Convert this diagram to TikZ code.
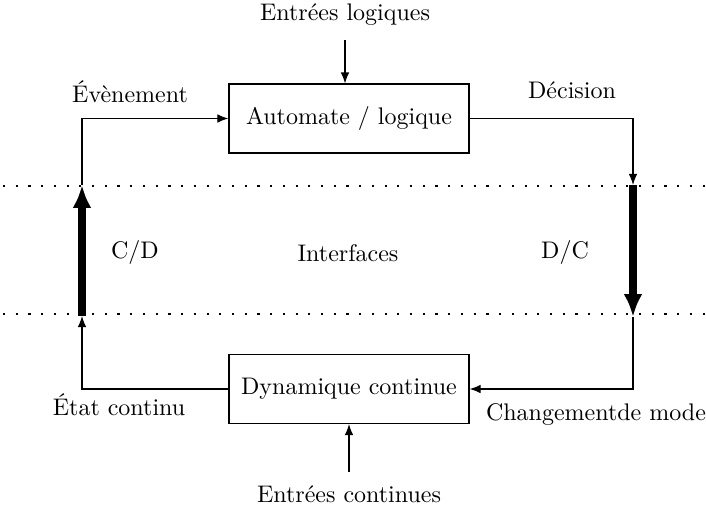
\documentclass[tikz,border=0pt]{standalone}
\usetikzlibrary{arrows.meta}
\begin{document}
\begin{tikzpicture}[x=0.41667pt,y=-0.41667pt,
  blockbox/.style={draw,line width=0.5pt,minimum width=100pt,minimum height=28.7pt,inner sep=0pt},
  lbl/.style={inner sep=0pt},
  thin/.style={line width=0.5pt,-{Latex[length=4.6pt,width=3.6pt]}},
  thickarr/.style={line width=3.4pt,-{Latex[length=9.5pt,width=7.8pt]}},
  dotline/.style={line width=0.8pt,dash pattern=on 0.9pt off 4.4pt}]
\useasboundingbox (0,0) rectangle (706,509);
% blocks
\node[blockbox] (auto) at (349,118.5) {Automate / logique};
\node[blockbox] (dyn) at (349,389) {Dynamique continue};
% labels
\node[lbl] (inlog) at (345,15) {Entrées logiques};
\node[lbl] (incont) at (349,494) {Entrées continues};
\node[lbl] (evt) at (130,92) {Évènement};
\node[lbl] (dec) at (572,90) {Décision};
\node[lbl] (cd) at (135,253) {C/D};
\node[lbl] (itf) at (348,253) {Interfaces};
\node[lbl] (dc) at (565,253) {D/C};
\node[lbl] (etat) at (119,405) {État continu};
\node[lbl] (chg) at (596,415) {Changementde mode};
% coordinates
\coordinate (inLs) at (345,40);
\coordinate (inCs) at (349,472);
\coordinate (cdTop) at (82,185);
\coordinate (cdBot) at (82,316);
\coordinate (dcTop) at (633,185);
\coordinate (dcBot) at (633,317);
\coordinate (dotAl) at (3,186);
\coordinate (dotAr) at (706,186);
\coordinate (dotBl) at (3,314);
\coordinate (dotBr) at (706,314);
% dotted interface lines
\draw[dotline] (dotAl) -- (dotAr);
\draw[dotline] (dotBl) -- (dotBr);
% inputs
\draw[thin] (inLs) -- (inLs |- auto.north);
\draw[thin] (inCs) -- (inCs |- dyn.south);
% left loop
\draw[thin] (dyn.west) -| (cdBot);
\draw[thickarr] (cdBot) -- (cdTop);
\draw[thin] (cdTop) |- (auto.west);
% right loop
\draw[thin] (auto.east) -| (dcTop);
\draw[thickarr] (dcTop) -- (dcBot);
\draw[thin] (dcBot) |- (dyn.east);
\end{tikzpicture}
\end{document}
